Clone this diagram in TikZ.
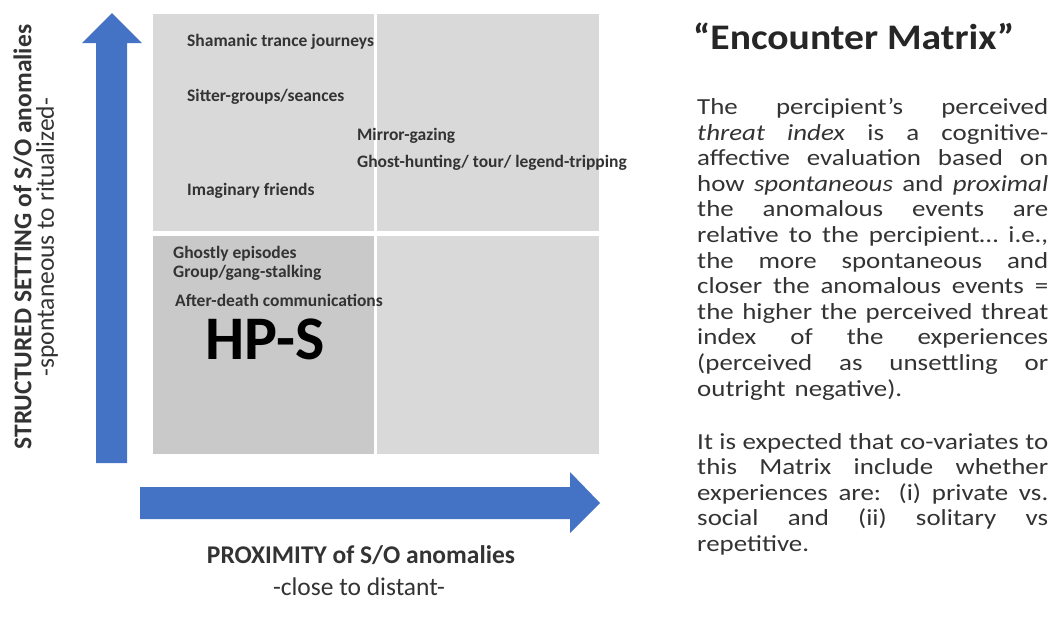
\documentclass[tikz,border=0pt]{standalone}
\usepackage{fontspec}
\setmainfont{Carlito}
\usetikzlibrary{positioning}
\definecolor{arrowblue}{HTML}{4472C4}
\definecolor{cellLight}{HTML}{D9D9D9}
\definecolor{cellDark}{HTML}{C9C9C9}
\definecolor{inkgray}{HTML}{333333}
% one justified line of the explanation
\newcommand{\jline}[1]{{\spaceskip=0pt\xspaceskip=0pt\makebox[300pt][s]{#1}}\\}
\tikzset{
  cell/.style={anchor=north west, inner sep=0pt, outer sep=0pt},
  item/.style={anchor=west, inner sep=0pt, font=\fontsize{17.5}{19}\selectfont\bfseries, text=inkgray},
  axislabel/.style={inner sep=0pt, font=\fontsize{25.5}{27}\selectfont\bfseries, text=inkgray},
  axissub/.style={inner sep=0pt, font=\fontsize{25.5}{27}\selectfont, text=inkgray}
}
\begin{document}
\begin{tikzpicture}[x=1pt,y=-1pt]
  \useasboundingbox (0,0) rectangle (1063,630);
  % quadrants
  \node[cell, fill=cellLight, minimum width=221pt, minimum height=217pt] (ul) at (153,14) {};
  \node[cell, fill=cellLight, minimum width=222pt, minimum height=217pt] (ur) at (377,14) {};
  \node[cell, fill=cellDark, minimum width=221pt, minimum height=218pt] (ll) at (153,236) {};
  \node[cell, fill=cellLight, minimum width=222pt, minimum height=218pt] (lr) at (377,236) {};

  % axis arrows
  \fill[arrowblue] (96,463) -- (96,43) -- (82,43) -- (112,13) -- (142,43) -- (127,43) -- (127,463) -- cycle;
  \fill[arrowblue] (140,487) -- (570,487) -- (570,472) -- (600,503) -- (570,533) -- (570,519) -- (140,519) -- cycle;

  % items in the matrix
  \node[item] (shaman) at (187,42) {Shamanic trance journeys};
  \node[item] (sitter) at (187,97) {Sitter-groups/seances};
  \node[item] (mirror) at (357,136) {Mirror-gazing};
  \node[item] (hunt) at (357,163) {Ghost-hunting/ tour/ legend-tripping};
  \node[item] (friends) at (187,191) {Imaginary friends};
  \node[item] (ghostly) at (173,254) {Ghostly episodes};
  \node[item] (stalk) at (173,273) {Group/gang-stalking};
  \node[item] (adc) at (175,300) {After-death communications};
  \node[inner sep=0pt, font=\fontsize{62}{64}\selectfont\bfseries] (hps) at (265,339) {HP-S};

  % axis labels
  \node[axislabel] (xlab) at (361,555) {PROXIMITY of S/O anomalies};
  \node[axissub] (xsub) at (359,587) {-close to distant-};
  \node[axislabel, rotate=90] (ylab) at (23,237) {STRUCTURED SETTING of S/O anomalies};
  \node[axissub, rotate=90] (ysub) at (47,237) {-spontaneous to ritualized-};

  % explanation
  \node[anchor=west, inner sep=0pt, xscale=1.1, transform shape,
        font=\fontsize{36}{38}\selectfont\bfseries, text=black!85] (title) at (693,36) {“Encounter Matrix”};
  \node[anchor=north west, inner sep=0pt, text width=300pt, align=left, text=inkgray,
        xscale=1.17, transform shape,
        font=\fontsize{23}{25.6}\selectfont] (expl) at (697,98) {%
    \jline{The percipient’s perceived}
    \jline{\textit{threat index} is a cognitive-}
    \jline{affective evaluation based on}
    \jline{how \textit{spontaneous} and \textit{proximal}}
    \jline{the anomalous events are}
    \jline{relative to the percipient… i.e.,}
    \jline{the more spontaneous and}
    \jline{closer the anomalous events =}
    \jline{the higher the perceived threat}
    \jline{index of the experiences}
    \jline{(perceived as unsettling or}
    outright negative).\\[27.5pt]
    \jline{It is expected that co-variates to}
    \jline{this Matrix include whether}
    \jline{experiences are: (i) private vs.}
    \jline{social and (ii) solitary vs}
    repetitive.};
\end{tikzpicture}
\end{document}
